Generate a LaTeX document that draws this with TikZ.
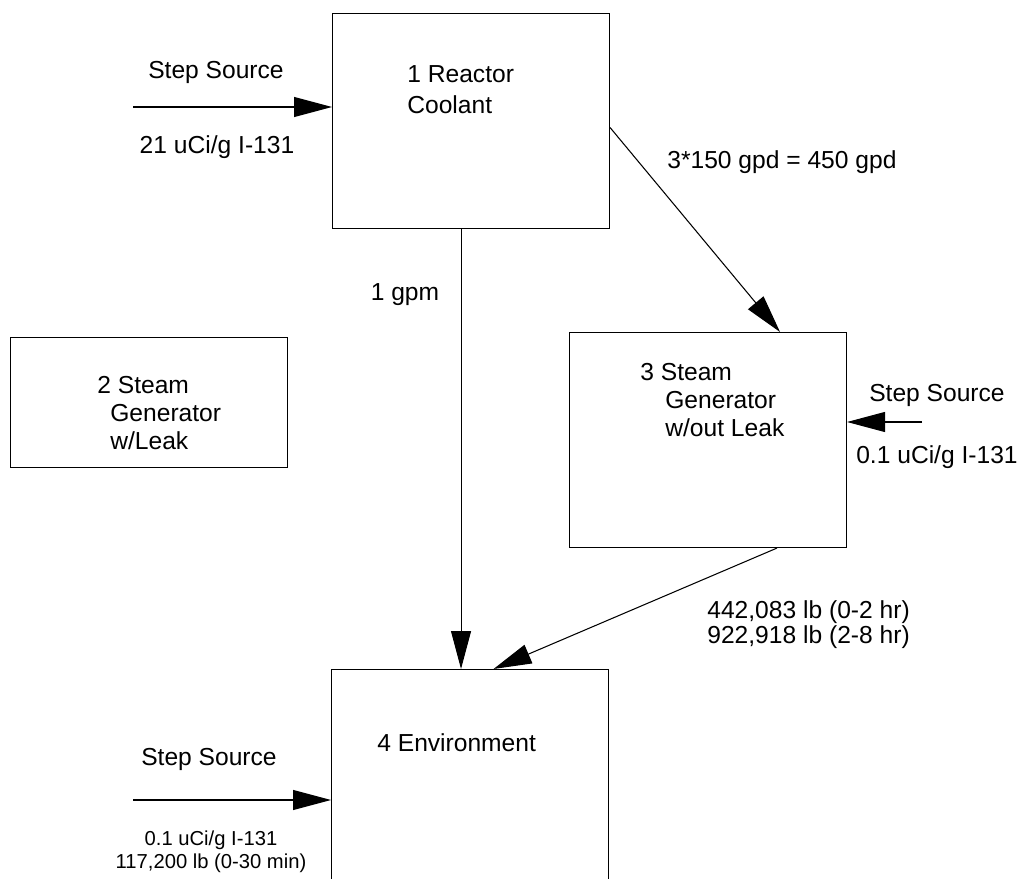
\documentclass[tikz,border=0pt]{standalone}
\usepackage{fontspec}
\setmainfont{Liberation Sans}
\usetikzlibrary{arrows.meta, positioning}
\tikzstyle{block} = [rectangle, draw=black, line width=0.6pt, minimum width=5.54cm, minimum height=4.3cm, inner sep=0pt]
\tikzstyle{arrow} = [line width=0.6pt, -{Triangle[length=7.6mm, width=4mm]}]

\begin{document}
\begin{tikzpicture}[
    every node/.style={font=\fontsize{14}{16}\selectfont, inner sep=0pt},
    boxtext/.style={align=left, anchor=north west},
    note/.style={align=center}
]
\clip (0,0) rectangle (20.54,-17.58);

% Boxes
\node (r1) [block, anchor=north west] at (6.64,-0.26) {};
\node (r2) [block, anchor=north west, minimum height=2.6cm] at (0.2,-6.74) {};
\node (r3) [block, anchor=north west] at (11.38,-6.64) {};
\node (r4) [block, anchor=north west] at (6.62,-13.38) {};

\node (t1) [boxtext] at ([shift={(1.5,-1.04)}]r1.north west) {1 Reactor\\[2pt]Coolant};
\node (t2) [boxtext] at ([shift={(1.74,-0.78)}]r2.north west) {2 Steam\\\hspace*{0.26cm}Generator\\\hspace*{0.26cm}w/Leak};
\node (t3) [boxtext] at ([shift={(1.42,-0.62)}]r3.north west) {3 Steam\\\hspace*{0.5cm}Generator\\\hspace*{0.5cm}w/out Leak};
\node (t4) [boxtext] at ([shift={(0.92,-1.28)}]r4.north west) {4 Environment};

% Sources
\coordinate (in1) at (2.66,-2.14);
\coordinate (in3) at (18.44,-8.44);
\coordinate (in4) at (2.66,-16.0);

\node (ss1) [note] at (4.32,-1.44) {Step Source};
\node (c1) [note] at (4.34,-2.94) {21 uCi/g I-131};
\node (ss3) [note] at (18.74,-7.9) {Step Source};
\node (c3) [note] at (18.74,-9.14) {0.1 uCi/g I-131};
\node (ss4) [note] at (4.18,-15.18) {Step Source};
\node (c4) [note, font=\fontsize{11.5}{13}\selectfont] at (4.22,-17.03) {0.1 uCi/g I-131\\117,200 lb (0-30 min)};

% Flow labels
\node (lgpm) [note] at (8.1,-5.9) {1 gpm};
\node (lgpd) [anchor=west] at (13.34,-3.24) {3*150 gpd = 450 gpd};
\node (llb) [anchor=west, align=left, font=\fontsize{14}{14.5}\selectfont] at (14.14,-12.49) {442,083 lb (0-2 hr)\\922,918 lb (2-8 hr)};

% Arrows
\draw [arrow] (in1) -- (in1 -| r1.west);
\draw [arrow] ([xshift=-0.2cm]r1.south) -- ([xshift=-0.2cm]r1.south |- r4.north);
\draw [arrow] ([yshift=-0.13cm]r1.east) -- ([xshift=1.44cm]r3.north);
\draw [arrow] (in3) -- (in3 -| r3.east);
\draw [arrow] ([xshift=1.38cm]r3.south) -- ([xshift=0.47cm]r4.north);
\draw [arrow] (in4) -- (in4 -| r4.west);

\end{tikzpicture}
\end{document}
